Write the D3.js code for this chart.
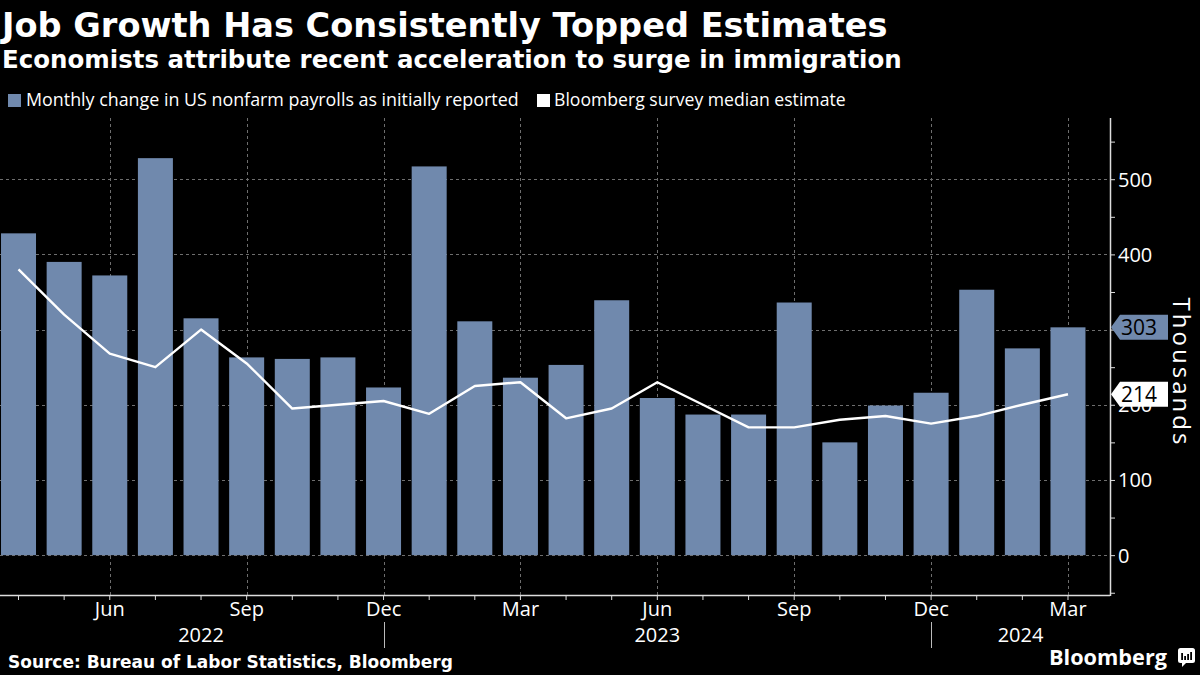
<!DOCTYPE html>
<html>
<head>
<meta charset="utf-8">
<script src="https://cdn.jsdelivr.net/npm/d3@7"></script>
<style>
  html, body { margin: 0; padding: 0; background: #000; }
  svg { display: block; }
</style>
</head>
<body>
<svg id="chart" width="1200" height="675"></svg>
<script>
// ---------------- data ----------------
const categories = ["2022-04","2022-05","2022-06","2022-07","2022-08","2022-09","2022-10","2022-11","2022-12",
  "2023-01","2023-02","2023-03","2023-04","2023-05","2023-06","2023-07","2023-08","2023-09","2023-10","2023-11","2023-12",
  "2024-01","2024-02","2024-03"];
const payrolls = [428,390,372,528,315,263,261,263,223,517,311,236,253,339,209,187,187,336,150,199,216,353,275,303];
const estimates = [380,320,268,250,300,255,195,200,205,188,225,230,182,195,230,200,170,170,180,185,175,185,200,214];
const tickCategories = ["2022-06","2022-09","2022-12","2023-03","2023-06","2023-09","2023-12","2024-03"];
const tickLabels = ["Jun","Sep","Dec","Mar","Jun","Sep","Dec","Mar"];
const yearLabels = ["2022","2023","2024"];
const yearBreaks = ["2022-12","2023-12"];
const yTickValues = [0,100,200,300,400,500];
const seriesNames = ["Monthly change in US nonfarm payrolls as initially reported","Bloomberg survey median estimate"];

// ---------------- style ----------------
const BAR = "#7089ad";
const GRID = "#6e6e6e";
const FONT = "'Open Sans', 'Noto Sans', sans-serif";
const BOLD = "'DejaVu Sans', Verdana, sans-serif";

const svg = d3.select("#chart");
svg.append("rect").attr("width",1200).attr("height",675).attr("fill","#000");

const plotLeft = 0, plotRight = 1110, plotTop = 118, plotBottom = 595;

const x = d3.scaleBand().domain(categories).range([-4.3, 1090.8]).paddingInner(0.233).paddingOuter(0.1165);
const cx = c => x(c) + x.bandwidth()/2;
const y = d3.scaleLinear().domain([-53, 581.4]).range([plotBottom, plotTop]);

function fit(sel, target) {
  const n = sel.node();
  const fs = parseFloat(sel.attr("font-size"));
  const w = n.getComputedTextLength();
  if (w > 0) sel.attr("font-size", (fs * target / w).toFixed(2));
  return sel;
}

// titles
fit(svg.append("text").attr("x",2).attr("y",37).attr("fill","#fff").attr("font-family",BOLD)
  .attr("font-weight","bold").attr("font-size",32).text("Job Growth Has Consistently Topped Estimates"), 886);
fit(svg.append("text").attr("x",2).attr("y",68).attr("fill","#fff").attr("font-family",BOLD)
  .attr("font-weight","bold").attr("font-size",23).text("Economists attribute recent acceleration to surge in immigration"), 900);

// legend
const lg = svg.append("g");
lg.append("rect").attr("x",8).attr("y",94).attr("width",13).attr("height",13).attr("fill",BAR);
fit(lg.append("text").attr("x",26).attr("y",106).attr("fill","#fff").attr("font-family",FONT)
  .attr("font-size",16).text(seriesNames[0]), 493);
lg.append("rect").attr("x",537).attr("y",94).attr("width",13).attr("height",13).attr("fill","#fff");
fit(lg.append("text").attr("x",554).attr("y",106).attr("fill","#fff").attr("font-family",FONT)
  .attr("font-size",16).text(seriesNames[1]), 292);

// grid
const grid = svg.append("g").attr("stroke",GRID).attr("stroke-width",1).attr("stroke-dasharray","3,3");
grid.selectAll("line.h").data(yTickValues).join("line")
  .attr("x1",plotLeft).attr("x2",plotRight).attr("y1",d=>Math.round(y(d))+0.5).attr("y2",d=>Math.round(y(d))+0.5);
grid.selectAll("line.v").data(tickCategories).join("line")
  .attr("x1",d=>Math.round(cx(d))+0.5).attr("x2",d=>Math.round(cx(d))+0.5).attr("y1",plotTop).attr("y2",plotBottom);

// bars
svg.append("g").selectAll("rect").data(categories).join("rect")
  .attr("x",d=>x(d)).attr("width",x.bandwidth())
  .attr("y",(d,i)=>y(payrolls[i])).attr("height",(d,i)=>y(0)-y(payrolls[i]))
  .attr("fill",BAR);

// line
const line = d3.line().x((d,i)=>cx(categories[i])).y(d=>y(d));
svg.append("path").datum(estimates).attr("d",line).attr("fill","none")
  .attr("stroke","#fff").attr("stroke-width",2.4).attr("stroke-linejoin","round");

// x axis
const labelMap = new Map(tickCategories.map((c,i)=>[c,tickLabels[i]]));
const xAxis = d3.axisBottom(x).tickSize(5).tickSizeOuter(0).tickFormat(d=>labelMap.get(d) || "");
const gx = svg.append("g").attr("transform",`translate(0,${plotBottom})`).call(xAxis);
gx.select(".domain").remove();
gx.selectAll(".tick line").attr("stroke","#ddd");
gx.selectAll(".tick text").attr("fill","#fff").attr("font-family",FONT).attr("font-size",20).attr("dy",0).attr("y",21);
svg.append("line").attr("x1",plotLeft).attr("x2",plotRight).attr("y1",plotBottom+0.5).attr("y2",plotBottom+0.5)
  .attr("stroke","#ddd").attr("stroke-width",1.5);

// year separators & labels
svg.append("g").selectAll("line").data(yearBreaks).join("line")
  .attr("x1",d=>Math.round(cx(d))+0.5).attr("x2",d=>Math.round(cx(d))+0.5).attr("y1",622).attr("y2",648)
  .attr("stroke","#bbb").attr("stroke-width",1);
const yearCenters = [
  (cx(categories[0]) + cx(yearBreaks[0]))/2,
  (cx(yearBreaks[0]) + cx(yearBreaks[1]))/2,
  (cx(yearBreaks[1]) + plotRight)/2
];
svg.append("g").selectAll("text").data(yearLabels).join("text")
  .attr("x",(d,i)=>yearCenters[i]).attr("y",642).attr("text-anchor","middle")
  .attr("fill","#fff").attr("font-family",FONT).attr("font-size",20).text(d=>d);

// y axis (right)
const yAxis = d3.axisRight(y).tickValues(d3.range(-50,551,50)).tickSize(5)
  .tickFormat(d => (d % 100 === 0 && d >= 0) ? d : "");
const gy = svg.append("g").attr("transform",`translate(${plotRight},0)`).call(yAxis);
gy.select(".domain").remove();
gy.selectAll(".tick line").attr("stroke","#ddd");
gy.selectAll(".tick text").attr("fill","#fff").attr("font-family",FONT).attr("font-size",20).attr("x",8).attr("dy","0.35em");
svg.append("line").attr("x1",plotRight+0.5).attr("x2",plotRight+0.5).attr("y1",plotTop).attr("y2",plotBottom+1)
  .attr("stroke","#ddd").attr("stroke-width",1.5);

// last-value labels
const lastBar = payrolls[payrolls.length-1], lastEst = estimates[estimates.length-1];
function tag(v, fill) {
  const yy = y(v);
  const g = svg.append("g");
  g.append("path").attr("d",`M${plotRight+1},${yy} L${plotRight+10},${yy-12.5} L${plotRight+58},${yy-12.5} L${plotRight+58},${yy+12.5} L${plotRight+10},${yy+12.5} Z`)
    .attr("fill",fill);
  g.append("text").attr("x",plotRight+11).attr("y",yy).attr("dy","0.36em").attr("fill","#000")
    .attr("font-family",FONT).attr("font-size",21).text(v);
}
tag(lastBar, BAR);
tag(lastEst, "#fff");

// axis title
svg.append("text").attr("transform","translate(1173,371) rotate(90)").attr("text-anchor","middle")
  .attr("fill","#fff").attr("font-family",FONT).attr("font-size",24)
  .attr("textLength",147).attr("lengthAdjust","spacing").text("Thousands");

// footer
fit(svg.append("text").attr("x",8).attr("y",668).attr("fill","#fff").attr("font-family",BOLD)
  .attr("font-weight","bold").attr("font-size",16).text("Source: Bureau of Labor Statistics, Bloomberg"), 445);
fit(svg.append("text").attr("x",1049).attr("y",665).attr("fill","#fff").attr("font-family","'Open Sans', sans-serif")
  .attr("font-weight","bold").attr("font-size",21).text("Bloomberg"), 118);
const logo = svg.append("g").attr("transform","translate(1178,648)");
logo.append("rect").attr("width",17).attr("height",15).attr("rx",2.5).attr("fill","#fff");
logo.append("path").attr("d","M4,15 L4,19 L8,15 Z").attr("fill","#fff");
[[4,7],[7,4],[10,6],[13,8]].forEach(([bx,bh])=>{
  logo.append("rect").attr("x",bx-0.8).attr("y",12-bh).attr("width",1.8).attr("height",bh).attr("fill","#000");
});
</script>
</body>
</html>
